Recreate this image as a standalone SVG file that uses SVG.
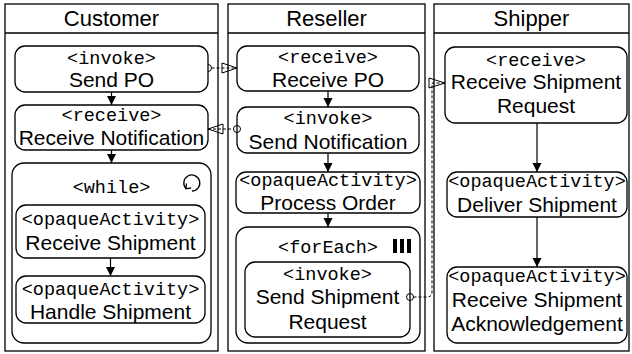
<svg xmlns="http://www.w3.org/2000/svg" width="632" height="354" viewBox="0 0 632 354">
<defs>
<style>
.lane{fill:#fff;stroke:#000;stroke-width:1.3}
.node{fill:#fff;stroke:#000;stroke-width:1.3}
.hdr{font-family:"Liberation Sans",Arial,sans-serif;font-size:22px;text-anchor:middle;fill:#000}
.t{font-family:"Liberation Sans",Arial,sans-serif;font-size:21px;text-anchor:middle;fill:#000}
.m{font-family:"Liberation Mono","Courier New",monospace;font-size:18.5px;text-anchor:middle;fill:#000}
.flow{fill:none;stroke:#000;stroke-width:1.2;marker-end:url(#ah)}
.msg{fill:none;stroke:#000;stroke-width:1;stroke-dasharray:3 2}
.open{fill:none;stroke:#000;stroke-width:1}
</style>
<marker id="ah" markerUnits="userSpaceOnUse" markerWidth="10" markerHeight="10" refX="9" refY="5" orient="auto">
<path d="M0,0.5 L9,5 L0,9.5 Z" fill="#000"/>
</marker>
</defs>
<rect width="632" height="354" fill="#fff"/>
<g id="lane-customer">
<rect class="lane" x="5" y="4" width="213" height="347"/>
<line x1="5" y1="33" x2="218" y2="33" stroke="#000" stroke-width="1.3"/>
<text class="hdr" x="111.5" y="26">Customer</text>
</g>
<g id="lane-reseller">
<rect class="lane" x="228" y="4" width="197" height="347"/>
<line x1="228" y1="33" x2="425" y2="33" stroke="#000" stroke-width="1.3"/>
<text class="hdr" x="326.5" y="26">Reseller</text>
</g>
<g id="lane-shipper">
<rect class="lane" x="434" y="4" width="195" height="347"/>
<line x1="434" y1="33" x2="629" y2="33" stroke="#000" stroke-width="1.3"/>
<text class="hdr" x="531.5" y="26">Shipper</text>
</g>
<g id="send-po">
<rect class="node" x="15" y="46" width="193" height="46" rx="10"/>
<text class="m" x="111.5" y="64">&lt;invoke&gt;</text>
<text class="t" x="111.5" y="87">Send PO</text>
</g>
<g id="receive-notification">
<rect class="node" x="15" y="105" width="193" height="45" rx="10"/>
<text class="m" x="111.5" y="121">&lt;receive&gt;</text>
<text class="t" x="111.5" y="145">Receive Notification</text>
</g>
<g id="while">
<rect class="node" x="12" y="163" width="199" height="180" rx="12"/>
<text class="m" x="111.5" y="193">&lt;while&gt;</text>
<path d="M186,188.5 A8,8 0 1 1 192,191" fill="none" stroke="#000" stroke-width="1.3"/>
<path d="M186.5,183.5 L186,188.8 L191,188" fill="none" stroke="#000" stroke-width="1.3"/>
</g>
<g id="receive-shipment">
<rect class="node" x="16" y="205" width="189" height="53" rx="10"/>
<text class="m" x="110.5" y="225">&lt;opaqueActivity&gt;</text>
<text class="t" x="110.5" y="250">Receive Shipment</text>
</g>
<g id="handle-shipment">
<rect class="node" x="16" y="276" width="189" height="47" rx="10"/>
<text class="m" x="110.5" y="295">&lt;opaqueActivity&gt;</text>
<text class="t" x="110.5" y="319">Handle Shipment</text>
</g>
<g id="receive-po">
<rect class="node" x="237" y="46" width="182" height="45" rx="10"/>
<text class="m" x="328" y="63">&lt;receive&gt;</text>
<text class="t" x="328" y="87">Receive PO</text>
</g>
<g id="send-notification">
<rect class="node" x="237" y="107" width="182" height="46" rx="10"/>
<text class="m" x="328" y="124">&lt;invoke&gt;</text>
<text class="t" x="328" y="149">Send Notification</text>
</g>
<g id="process-order">
<rect class="node" x="236" y="172" width="184" height="41" rx="10"/>
<text class="m" x="328" y="186">&lt;opaqueActivity&gt;</text>
<text class="t" x="328" y="210">Process Order</text>
</g>
<g id="foreach">
<rect class="node" x="236" y="227" width="184" height="116" rx="12"/>
<text class="m" x="328" y="253">&lt;forEach&gt;</text>
<rect x="393" y="239" width="4" height="14" fill="#000"/>
<rect x="400" y="239" width="4" height="14" fill="#000"/>
<rect x="407" y="239" width="4" height="14" fill="#000"/>
</g>
<g id="send-shipment-request">
<rect class="node" x="245" y="262" width="165" height="75" rx="10"/>
<text class="m" x="327.5" y="280">&lt;invoke&gt;</text>
<text class="t" x="327.5" y="304">Send Shipment</text>
<text class="t" x="327.5" y="329">Request</text>
</g>
<g id="receive-shipment-request">
<rect class="node" x="445" y="47" width="182" height="76" rx="10"/>
<text class="m" x="536" y="66">&lt;receive&gt;</text>
<text class="t" x="536" y="89">Receive Shipment</text>
<text class="t" x="536" y="113">Request</text>
</g>
<g id="deliver-shipment">
<rect class="node" x="447" y="172" width="180" height="45" rx="10"/>
<text class="m" x="537" y="187">&lt;opaqueActivity&gt;</text>
<text class="t" x="537" y="212">Deliver Shipment</text>
</g>
<g id="receive-shipment-ack">
<rect class="node" x="447" y="267" width="180" height="76" rx="10"/>
<text class="m" x="537" y="282">&lt;opaqueActivity&gt;</text>
<text class="t" x="537" y="307">Receive Shipment</text>
<text class="t" x="537" y="331">Acknowledgement</text>
</g>
<g id="connectors">
<line class="flow" x1="111.5" y1="92" x2="111.5" y2="105"/>
<line class="flow" x1="111.5" y1="150" x2="111.5" y2="163"/>
<line class="flow" x1="110.5" y1="258" x2="110.5" y2="276"/>
<line class="flow" x1="328" y1="91" x2="328" y2="107"/>
<line class="flow" x1="328" y1="153" x2="328" y2="172"/>
<line class="flow" x1="328" y1="213" x2="328" y2="227"/>
<line class="flow" x1="537" y1="123" x2="537" y2="172"/>
<line class="flow" x1="537" y1="217" x2="537" y2="267"/>
<path class="open" d="M208,64.5 A3.5,3.5 0 0 1 208,71.5"/>
<path class="msg" d="M211.5,68 H237"/>
<path class="open" d="M222,63 L237,68 L222,73 Z"/>
<path class="msg" d="M208,129 H233.5"/>
<path class="open" d="M223,124 L208,129 L223,134 Z"/>
<circle class="open" cx="237" cy="129" r="3.5"/>
<circle class="open" cx="410" cy="297" r="3.5"/>
<path class="msg" d="M413.5,297 H427 Q432,297 432,292 V83 H445"/>
<path class="open" d="M429,78 L445,83 L429,88 Z"/>
</g>
</svg>
